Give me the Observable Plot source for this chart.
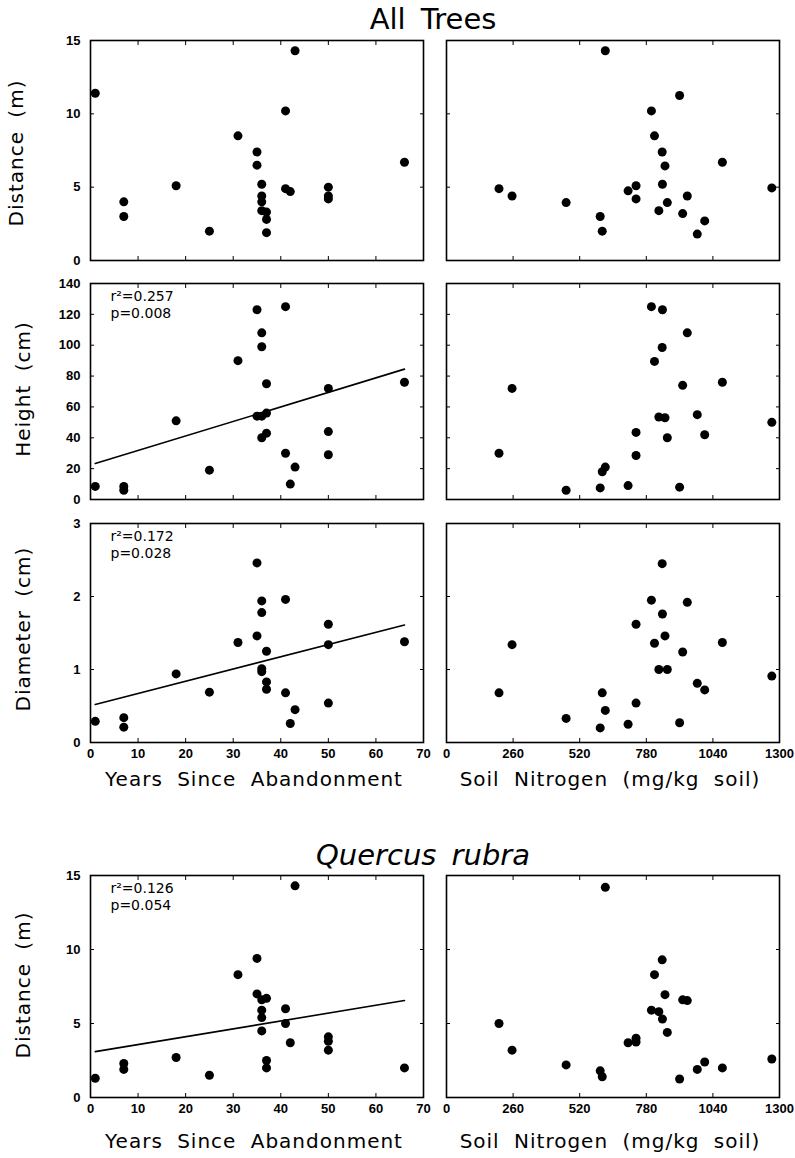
<!DOCTYPE html>
<html>
<head>
<meta charset="utf-8">
<script src="https://cdn.jsdelivr.net/npm/d3@7"></script>
<script src="https://cdn.jsdelivr.net/npm/@observablehq/plot@0.6"></script>
<style>
  html, body { margin: 0; padding: 0; background: #fff; }
  #fig { position: relative; width: 795px; height: 1158px; background: #fff; overflow: hidden; }
  .lbl { position: absolute; white-space: nowrap; line-height: 1; color: #000;
         font-family: "DejaVu Sans", sans-serif; font-weight: normal; }
  .ylab { font-size: 20px; letter-spacing: 1px; word-spacing: 6px; }
  .xlab { font-size: 20px; letter-spacing: 1px; word-spacing: 7px; }
  .title { font-size: 29px; word-spacing: 6px; }
  svg { position: absolute; overflow: visible; }
  svg g[aria-label="x-axis tick label"], svg g[aria-label="y-axis tick label"],
  svg g[aria-label="x-axis tick label"] text, svg g[aria-label="y-axis tick label"] text {
    font-size: 13px; font-weight: bold; font-family: "Liberation Sans", Arial, sans-serif;
  }
</style>
</head>
<body>
<div id="fig"></div>
<script>
// ---- data ----
const years = [1, 7, 7, 18, 25, 31, 35, 35, 36, 36, 36, 36, 37, 37, 37, 41, 41, 42, 43, 50, 50, 50, 66];
const nitrogen = [205, 256, 467, 600, 608, 620, 709, 740, 740, 800, 812, 829, 842, 843, 853, 862, 910, 922, 940, 979, 1008, 1077, 1270];

const distanceByYears = [11.4, 4.0, 3.0, 5.1, 2.0, 8.5, 7.4, 6.5, 5.2, 4.4, 4.0, 3.4, 3.3, 2.8, 1.9, 10.2, 4.9, 4.7, 14.3, 5.0, 4.4, 4.2, 6.7];
const heightByYears = [8.5, 8.5, 6, 51, 19, 90, 123, 54, 108, 99, 54, 40, 75, 56, 43, 125, 30, 10, 21, 72, 44, 29, 76];
const diameterByYears = [0.29, 0.34, 0.21, 0.94, 0.69, 1.37, 2.46, 1.46, 1.94, 1.78, 1.01, 0.97, 1.25, 0.83, 0.73, 1.96, 0.68, 0.26, 0.45, 1.62, 1.34, 0.54, 1.38];
const quercusDistanceByYears = [1.3, 2.3, 1.9, 2.7, 1.5, 8.3, 9.4, 7.0, 6.6, 5.9, 5.4, 4.5, 6.7, 2.5, 2.0, 6.0, 5.0, 3.7, 14.3, 4.1, 3.8, 3.2, 2.0];

const distanceByNitrogen = [4.9, 4.4, 3.95, 3.0, 2.0, 14.3, 4.75, 5.1, 4.2, 10.2, 8.5, 3.4, 7.4, 5.2, 6.45, 3.95, 11.25, 3.2, 4.4, 1.8, 2.7, 6.7, 4.95];
const heightByNitrogen = [30, 72, 6, 7.5, 18, 21, 9, 28.5, 43.5, 125, 89.5, 53.5, 98.5, 123, 53, 40, 8, 74, 108, 55, 42, 76, 50];
const diameterByNitrogen = [0.68, 1.34, 0.33, 0.2, 0.68, 0.44, 0.25, 0.54, 1.62, 1.95, 1.36, 1.0, 2.45, 1.76, 1.46, 1.0, 0.27, 1.24, 1.92, 0.81, 0.72, 1.37, 0.91];
const quercusDistanceByNitrogen = [5.0, 3.2, 2.2, 1.8, 1.4, 14.2, 3.7, 4.0, 3.75, 5.9, 8.3, 5.8, 9.3, 5.3, 6.95, 4.4, 1.25, 6.6, 6.55, 1.9, 2.4, 2.0, 2.6];

// regression lines (end points)
const fitYears = [1, 66];
const heightFit = [23.3, 84.5];
const diameterFit = [0.52, 1.61];
const quercusFit = [3.1, 6.55];

const heightNote = ["r²=0.257", "p=0.008"];
const diameterNote = ["r²=0.172", "p=0.028"];
const quercusNote = ["r²=0.126", "p=0.054"];

// ticks
const yearTicks = [0, 10, 20, 30, 40, 50, 60, 70];
const nitrogenTicks = [0, 260, 520, 780, 1040, 1300];
const distanceTicks = [0, 5, 10, 15];
const heightTicks = [0, 20, 40, 60, 80, 100, 120, 140];
const diameterTicks = [0, 1, 2, 3];

// ---- layout ----
const fig = document.getElementById("fig");
const COLS = [[90, 423], [446, 779]];
const ROWS = [[40, 260], [283, 499], [523, 742], [875, 1097]];

function addText(cls, text, cx, cy, rotate, extra) {
  const d = document.createElement("div");
  d.className = "lbl " + cls;
  d.textContent = text;
  d.style.left = cx + "px";
  d.style.top = cy + "px";
  d.style.transform = "translate(-50%, -50%)" + (rotate ? " rotate(-90deg)" : "");
  if (extra) Object.assign(d.style, extra);
  fig.appendChild(d);
}

function panel(o) {
  const [l, r] = COLS[o.col];
  const [t, b] = ROWS[o.row];
  const ML = 50, MR = 8, MT = 8, MB = 30;
  const data = o.x.map((xv, i) => ({x: xv, y: o.y[i]}));
  const blank = () => "";
  const marks = [
    Plot.axisX({anchor: "bottom", ticks: o.xTicks, tickSize: -4, tickPadding: 10, label: null,
      tickFormat: o.xLabels ? (d => String(d)) : blank, fontWeight: "bold", fontSize: 13}),
    Plot.axisX({anchor: "top", ticks: o.xTicks, tickSize: -4, label: null, tickFormat: blank}),
    Plot.axisY({anchor: "left", ticks: o.yTicks, tickSize: -4, tickPadding: 14, label: null,
      tickFormat: o.yLabels ? (d => String(d)) : blank, fontWeight: "bold", fontSize: 13}),
    Plot.axisY({anchor: "right", ticks: o.yTicks, tickSize: -4, label: null, tickFormat: blank}),
    Plot.frame({stroke: "black", strokeWidth: 1.6}),
    Plot.dot(data, {x: "x", y: "y", r: 4.5, fill: "black", stroke: "none"})
  ];
  if (o.fit) {
    marks.push(Plot.line(fitYears.map((xv, i) => ({x: xv, y: o.fit[i]})),
      {x: "x", y: "y", stroke: "black", strokeWidth: 1.6}));
  }
  if (o.note) {
    marks.push(Plot.text([o.note.join("\n")], {
      text: d => d, frameAnchor: "top-left", dx: 20, dy: 6, textAnchor: "start", lineAnchor: "top",
      fontSize: 14, lineHeight: 1.2, fontFamily: "DejaVu Sans", fill: "black"
    }));
  }
  const svg = Plot.plot({
    width: (r - l) + ML + MR,
    height: (b - t) + MT + MB,
    marginLeft: ML, marginRight: MR, marginTop: MT, marginBottom: MB,
    x: {domain: o.xDomain},
    y: {domain: o.yDomain},
    style: {fontFamily: "Liberation Sans, Arial, sans-serif", fontSize: "13px", background: "transparent", color: "black", overflow: "visible"},
    marks
  });
  svg.style.left = (l - ML) + "px";
  svg.style.top = (t - MT) + "px";
  fig.appendChild(svg);
}

const panels = [
  {row: 0, col: 0, x: years, y: distanceByYears, xDomain: [0, 70], yDomain: [0, 15], xTicks: yearTicks, yTicks: distanceTicks, yLabels: true},
  {row: 0, col: 1, x: nitrogen, y: distanceByNitrogen, xDomain: [0, 1300], yDomain: [0, 15], xTicks: nitrogenTicks, yTicks: distanceTicks},
  {row: 1, col: 0, x: years, y: heightByYears, xDomain: [0, 70], yDomain: [0, 140], xTicks: yearTicks, yTicks: heightTicks, yLabels: true, fit: heightFit, note: heightNote},
  {row: 1, col: 1, x: nitrogen, y: heightByNitrogen, xDomain: [0, 1300], yDomain: [0, 140], xTicks: nitrogenTicks, yTicks: heightTicks},
  {row: 2, col: 0, x: years, y: diameterByYears, xDomain: [0, 70], yDomain: [0, 3], xTicks: yearTicks, yTicks: diameterTicks, yLabels: true, xLabels: true, fit: diameterFit, note: diameterNote},
  {row: 2, col: 1, x: nitrogen, y: diameterByNitrogen, xDomain: [0, 1300], yDomain: [0, 3], xTicks: nitrogenTicks, yTicks: diameterTicks, xLabels: true},
  {row: 3, col: 0, x: years, y: quercusDistanceByYears, xDomain: [0, 70], yDomain: [0, 15], xTicks: yearTicks, yTicks: distanceTicks, yLabels: true, xLabels: true, fit: quercusFit, note: quercusNote},
  {row: 3, col: 1, x: nitrogen, y: quercusDistanceByNitrogen, xDomain: [0, 1300], yDomain: [0, 15], xTicks: nitrogenTicks, yTicks: distanceTicks, xLabels: true}
];
panels.forEach(panel);

// titles and axis labels
addText("title", "All Trees", 433, 19);
addText("title", "Quercus rubra", 423, 855, false, {fontStyle: "italic"});
addText("ylab", "Distance (m)", 16, 153, true);
addText("ylab", "Height (cm)", 23, 389, true);
addText("ylab", "Diameter (cm)", 23, 629, true);
addText("ylab", "Distance (m)", 23, 985, true);
addText("xlab", "Years Since Abandonment", 254, 779);
addText("xlab", "Soil Nitrogen (mg/kg soil)", 610, 779);
addText("xlab", "Years Since Abandonment", 254, 1141);
addText("xlab", "Soil Nitrogen (mg/kg soil)", 610, 1141);
</script>
</body>
</html>
